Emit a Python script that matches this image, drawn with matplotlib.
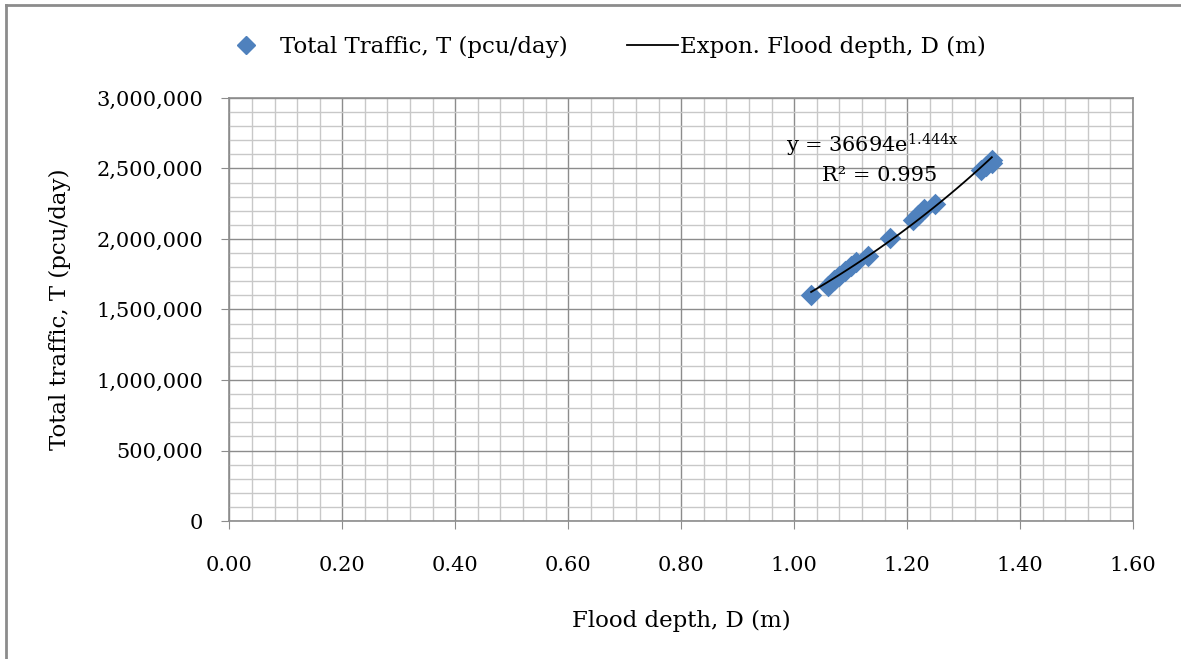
import numpy as np
import matplotlib
matplotlib.use("Agg")
import matplotlib.pyplot as plt
from matplotlib.ticker import MultipleLocator, FuncFormatter
from matplotlib.lines import Line2D

plt.rcParams['font.family'] = ['DejaVu Serif']
plt.rcParams['mathtext.fontset'] = 'dejavuserif'

# data
flood_depth = [1.03, 1.06, 1.07, 1.08, 1.09, 1.10, 1.11, 1.13, 1.17,
               1.21, 1.22, 1.23, 1.25, 1.33, 1.34, 1.35, 1.35]
total_traffic = [1600000, 1670000, 1710000, 1740000, 1770000, 1810000, 1840000,
                 1880000, 2005000, 2135000, 2170000, 2210000, 2250000,
                 2490000, 2520000, 2560000, 2540000]
x_ticks = [0.00, 0.20, 0.40, 0.60, 0.80, 1.00, 1.20, 1.40, 1.60]
y_ticks = [0, 500000, 1000000, 1500000, 2000000, 2500000, 3000000]

blue = '#4F81BD'
grid_major = '#8c8c8c'
grid_minor = '#c8c8c8'
fs = 15
fs_lab = 16.5

fig = plt.figure(figsize=(11.81, 6.59), dpi=100)
ax = fig.add_axes([0.1942, 0.2094, 0.9594 - 0.1942, 0.8513 - 0.2094])

# exponential trendline fitted in log space
xd = np.array(flood_depth)
yd = np.array(total_traffic)
b, ln_a = np.polyfit(xd, np.log(yd), 1)
xf = np.linspace(xd.min(), xd.max(), 100)
yf = np.exp(ln_a) * np.exp(b * xf)

ax.scatter(xd, yd, marker='D', s=120, color=blue, zorder=3, linewidths=0)
ax.plot(xf, yf, color='black', lw=1.3, zorder=4)

ax.set_xlim(0, 1.6)
ax.set_ylim(0, 3000000)
ax.set_xticks(x_ticks)
ax.set_yticks(y_ticks)
ax.xaxis.set_minor_locator(MultipleLocator(0.04))
ax.yaxis.set_minor_locator(MultipleLocator(100000))
ax.xaxis.set_major_formatter(FuncFormatter(lambda v, p: f'{v:.2f}'))
ax.yaxis.set_major_formatter(FuncFormatter(lambda v, p: f'{int(v):,}'))

ax.grid(which='major', color=grid_major, lw=1.0, zorder=1)
ax.grid(which='minor', color=grid_minor, lw=1.0, zorder=0)
ax.set_axisbelow(True)
for s in ax.spines.values():
    s.set_color(grid_major)
    s.set_linewidth(1.2)
ax.tick_params(which='major', length=6, color=grid_major, labelsize=fs)
ax.tick_params(axis='y', pad=13)
ax.tick_params(axis='x', pad=19)
ax.tick_params(which='minor', length=0)

ax.set_xlabel('Flood depth, D (m)', fontsize=fs_lab, labelpad=25)
ax.set_ylabel('Total traffic, T (pcu/day)', fontsize=fs_lab, labelpad=18)

# trendline equation
ax.text(1.138, 2667000, r'y = 36694e$^{1.444\mathrm{x}}$', fontsize=fs, ha='center', va='center')
ax.text(1.152, 2447000, 'R² = 0.995', fontsize=fs, ha='center', va='center')

# legend split in two so each entry keeps its own spacing
fig.legend([Line2D([], [], marker='D', color=blue, ls='none', markersize=9)],
           ['Total Traffic, T (pcu/day)'], loc='center left',
           bbox_to_anchor=(0.197, 0.9287), frameon=False, fontsize=fs_lab,
           handlelength=1.2, handletextpad=0.87, borderpad=0, borderaxespad=0)
fig.legend([Line2D([], [], color='black', lw=1.3)],
           ['Expon. Flood depth, D (m)'], loc='center left',
           bbox_to_anchor=(0.531, 0.9287), frameon=False, fontsize=fs_lab,
           handlelength=2.23, handletextpad=0.08, borderpad=0, borderaxespad=0)

# outer chart border (left and top visible)
fig.add_artist(Line2D([0.0055, 0.0055], [0.0, 0.992], transform=fig.transFigure,
                      color='#8c8c8c', lw=2))
fig.add_artist(Line2D([0.0055, 1.0], [0.992, 0.992], transform=fig.transFigure,
                      color='#8c8c8c', lw=2))

fig.savefig('out.png', dpi=100)
